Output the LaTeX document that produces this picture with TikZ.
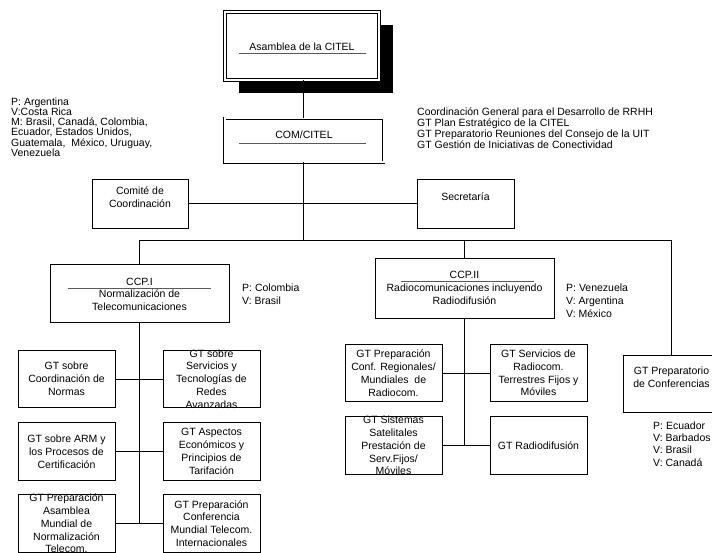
\documentclass[tikz,border=0pt]{standalone}
\usepackage{fontspec}
\setmainfont{Liberation Sans}
\usetikzlibrary{shadows}
\newcommand{\orgsize}{\fontsize{10.5}{12.8}\selectfont}
\newcommand{\listsize}{\fontsize{10.5}{10.2}\selectfont}
\tikzset{
  link/.style={draw, line width=.8pt},
  boxline/.style={draw, line width=.8pt, fill=white, inner sep=0pt, outer sep=0pt},
  dframe/.style={boxline, double, double distance=2pt, line width=.8pt},
  gt/.style={boxline, minimum width=97pt, minimum height=57.5pt},
  ccp/.style={boxline, minimum width=179pt, minimum height=58pt},
  inbox/.style={font=\orgsize, align=center, inner sep=0pt},
  members/.style={font=\orgsize, align=left, inner sep=0pt, anchor=west},
  subline/.style={draw, line width=.9pt, black!65},
}

\begin{document}
\begin{tikzpicture}[x=1pt, y=-1pt]
  \useasboundingbox (0,0) rectangle (712,553);

  % asamblea and commission
  \node[dframe, minimum width=154pt, minimum height=68pt,
        drop shadow={shadow xshift=14pt, shadow yshift=-13pt, opacity=1, fill=black},
        label={[inbox,yshift=-1pt]center:Asamblea de la CITEL}] (asamblea) at (302,46) {};
  \draw[subline] ([xshift=-63pt,yshift=-7pt]asamblea.center) -- ++(127,0);

  \node[dframe, minimum width=159pt, minimum height=44pt,
        label={[inbox,yshift=5.5pt]center:COM/CITEL}] (comcitel) at (304,140.5) {};
  \draw[subline] ([xshift=-65pt,yshift=-2.5pt]comcitel.center) -- ++(127,0);

  \node[members, font=\listsize] (hosts) at (11,127)
    {P: Argentina\\V:Costa Rica\\M: Brasil, Canadá, Colombia,\\Ecuador, Estados Unidos,\\Guatemala,\ \ México, Uruguay,\\Venezuela};
  \node[members, font=\fontsize{10.5}{9.6}\selectfont] (groups) at (417,128)
    {Coordinación General para el Desarrollo de RRHH\\GT Plan Estratégico de la CITEL\\GT Preparatorio Reuniones del Consejo de la UIT\\GT Gestión de Iniciativas de Conectividad};

  \node[boxline, minimum width=96pt, minimum height=49pt,
        label={[inbox,yshift=6.5pt]center:Comité de\\Coordinación}] (comite) at (140,203.5) {};
  \node[boxline, minimum width=97pt, minimum height=49pt,
        label={[inbox,yshift=6.5pt]center:Secretaría}] (secretaria) at (465.5,203.5) {};

  % consultative committees
  \node[ccp, label={[inbox,yshift=-1.2pt]center:CCP.I\\Normalización de\\Telecomunicaciones}] (ccp1) at (139.5,293) {};
  \draw[subline] ([xshift=-71.5pt,yshift=5pt]ccp1.center) -- ++(143,0);
  \node[members] (ccp1m) at (242,294.5) {P: Colombia\\V: Brasil};

  \node[ccp, minimum height=60pt, label={[inbox]center:CCP.II\\Radiocomunicaciones incluyendo\\Radiodifusión}] (ccp2) at (464.5,288) {};
  \draw[subline] ([xshift=-64pt,yshift=6.3pt]ccp2.center) -- ++(133,0);
  \node[members] (ccp2m) at (566,300.5) {P: Venezuela\\V: Argentina\\V: México};

  \node[boxline, minimum width=97pt, minimum height=57pt,
        label={[inbox,yshift=6.5pt]center:GT Preparatorio\\de Conferencias}] (prep) at (671.5,383.5) {};
  \node[members, font=\fontsize{10.5}{12.3}\selectfont] (prepm) at (653,444) {P: Ecuador\\V: Barbados\\V: Brasil\\V: Canadá};

  % working groups
  \node[gt, label={[inbox]center:GT sobre\\Coordinación de\\Normas}] (gta) at (66.5,379) {};
  \node[gt, label={[inbox]center:GT sobre\\Servicios y\\Tecnologías de\\Redes\\Avanzadas}] (gtb) at (211.5,379) {};
  \node[gt, label={[inbox]center:GT sobre ARM y\\los Procesos de\\Certificación}] (gtc) at (66.5,451.5) {};
  \node[gt, label={[inbox]center:GT Aspectos\\Económicos y\\Principios de\\Tarifación}] (gtd) at (211.5,451.5) {};
  \node[gt, label={[inbox]center:GT Preparación\\Asamblea\\Mundial de\\Normalización\\Telecom.}] (gte) at (66.5,523.5) {};
  \node[gt, label={[inbox]center:GT Preparación\\Conferencia\\Mundial Telecom.\\Internacionales}] (gtf) at (211.5,523.5) {};

  \node[gt, label={[inbox]center:GT Preparación\\Conf. Regionales/\\Mundiales\ \ de\\Radiocom.}] (gtg) at (393.5,373) {};
  \node[gt, label={[inbox]center:GT Servicios de\\Radiocom.\\Terrestres Fijos y\\Móviles}] (gth) at (538.5,373) {};
  \node[gt, label={[inbox]center:GT Sistemas\\Satelitales\\Prestación de\\Serv.Fijos/\\Móviles}] (gti) at (393.5,445.5) {};
  \node[gt, label={[inbox]center:GT Radiodifusión}] (gtj) at (538.5,445.5) {};

  % connectors
  \coordinate (trunk) at (303,0);
  \coordinate (bus) at (303,240);
  \draw[link] (trunk |- asamblea.south) -- (trunk |- comcitel.north);
  \draw[link] (trunk |- comcitel.south) -- (bus);
  \draw[link] (comite.east) -- (secretaria.west);
  \draw[link] (ccp1.north) -- (ccp1.north |- bus) -- (prep.north |- bus) -- (prep.north);
  \draw[link] (ccp2.north) -- (ccp2.north |- bus);

  \draw[link] (ccp1.south) -- (ccp1.south |- gte.east);
  \draw[link] (gta.east) -- (gtb.west);
  \draw[link] (gtc.east) -- (gtd.west);
  \draw[link] (gte.east) -- (gtf.west);

  \draw[link] (ccp2.south) -- (ccp2.south |- gti.east);
  \draw[link] (gtg.east) -- (gth.west);
  \draw[link] (gti.east) -- (gtj.west);
\end{tikzpicture}
\end{document}
